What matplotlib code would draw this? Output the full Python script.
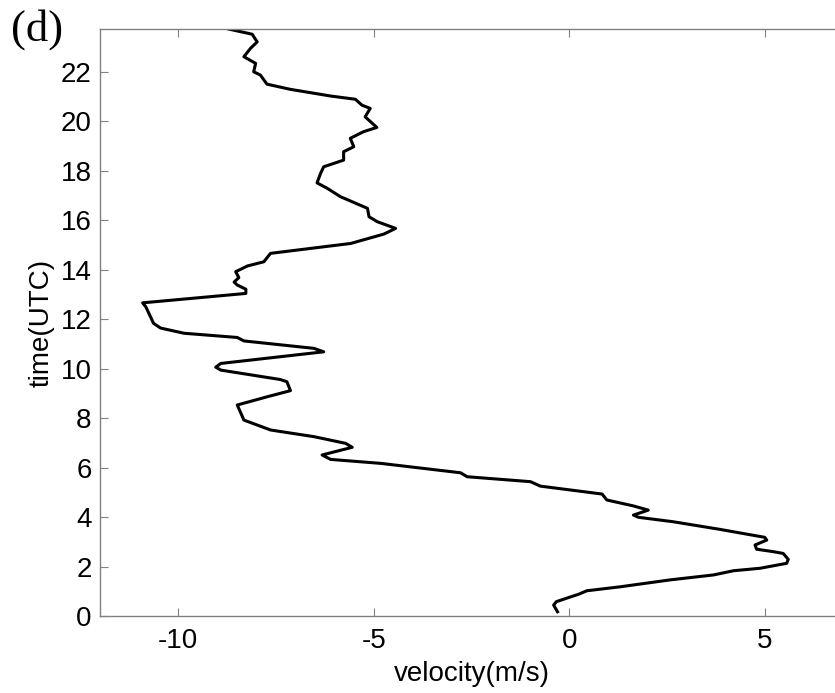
import numpy as np
import matplotlib
matplotlib.use("Agg")
import matplotlib.pyplot as plt

# velocity profile, bottom (t=0) to top
velocity = [-0.30, -0.40, -0.33, 0.03, 0.24, 0.45, 1.30, 2.58, 3.69, 4.20,
            4.88, 5.56, 5.60, 5.47, 5.22, 4.79, 4.75, 5.05, 5.00, 3.86,
            2.66, 1.77, 1.64, 2.02, 1.64, 0.96, 0.84, -0.74, -0.99, -2.61,
            -2.78, -4.82, -6.10, -6.32, -5.55, -5.72, -6.53, -7.64, -8.32, -8.49,
            -7.73, -7.13, -7.22, -7.39, -8.91, -9.04, -8.91, -6.28, -6.53, -8.32,
            -8.49, -9.85, -10.45, -10.63, -10.79, -10.83, -10.91, -8.27, -8.27, -8.49,
            -8.57, -8.45, -8.53, -8.23, -7.81, -7.64, -5.59, -4.74, -4.44, -4.91,
            -5.12, -5.16, -5.85, -6.19, -6.45, -6.36, -6.28, -5.77, -5.77, -5.51,
            -5.60, -5.26, -4.92, -5.22, -5.09, -5.30, -5.47, -6.10, -7.13, -7.73,
            -7.90, -8.07, -8.02, -8.32, -8.15, -7.98, -8.11, -8.66, -8.90]
time_utc = [0.17, 0.44, 0.58, 0.77, 0.88, 1.02, 1.18, 1.46, 1.66, 1.83,
            1.93, 2.13, 2.29, 2.53, 2.60, 2.70, 2.87, 3.07, 3.18, 3.50,
            3.81, 3.99, 4.08, 4.28, 4.45, 4.69, 4.93, 5.25, 5.43, 5.63,
            5.79, 6.17, 6.33, 6.51, 6.82, 6.98, 7.25, 7.52, 7.92, 8.53,
            8.86, 9.11, 9.47, 9.56, 9.94, 10.06, 10.21, 10.68, 10.82, 11.12,
            11.26, 11.43, 11.64, 11.83, 12.37, 12.50, 12.66, 13.04, 13.21, 13.38,
            13.50, 13.68, 13.92, 14.15, 14.32, 14.66, 15.06, 15.44, 15.67, 15.94,
            16.14, 16.48, 16.95, 17.29, 17.51, 17.89, 18.16, 18.43, 18.77, 18.97,
            19.31, 19.58, 19.75, 20.18, 20.52, 20.65, 20.89, 21.02, 21.29, 21.50,
            21.87, 22.00, 22.34, 22.61, 22.95, 23.21, 23.52, 23.71, 23.80]

xticks = [-10, -5, 0, 5]
yticks = list(range(0, 23, 2))

plt.rcParams['font.family'] = ['Liberation Sans', 'DejaVu Sans']
plt.rcParams['axes.unicode_minus'] = False

fig = plt.figure(figsize=(8.35, 6.93), dpi=100)
ax = fig.add_axes([100 / 835, 77 / 693, 743 / 835, 587 / 693])

ax.plot(velocity, time_utc, color='black', lw=2.2)

ax.set_xlim(-12, 7)
ax.set_ylim(0, 23.73)
ax.set_xticks(xticks)
ax.set_yticks(yticks)
ax.tick_params(direction='in', length=6, width=0.8, color='#808080',
               labelsize=20, top=True, right=True, pad=6)
ax.tick_params(axis='x', pad=9)
for s in ax.spines.values():
    s.set_color('#808080')
    s.set_linewidth(1.0)

ax.set_xlabel('velocity(m/s)', fontsize=20, labelpad=5)
ax.set_ylabel('time(UTC)', fontsize=20, labelpad=4)

fig.text(11 / 835, 1 - 30 / 693, '(d)', family='Liberation Serif', fontsize=32,
         va='center', ha='left')

fig.savefig('out.png', dpi=100)
